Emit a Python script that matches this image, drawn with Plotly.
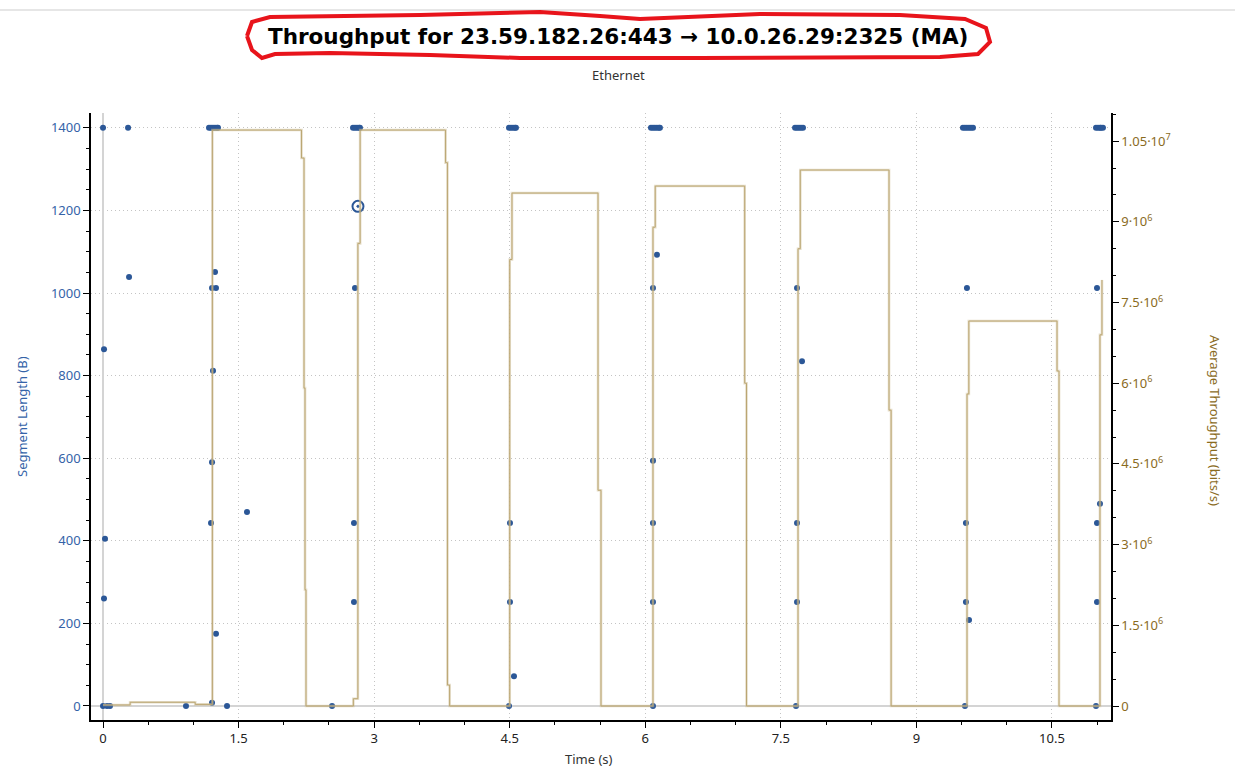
import plotly.graph_objects as go

# ---------------- data ----------------
# Average throughput (moving average), step line (time s, bits/s)
tp_time = [0.0, 0.30, 1.02, 1.21, 2.196, 2.224, 2.235, 2.246, 2.77, 2.82, 2.845,
           3.79, 3.811, 3.835, 4.50, 4.525, 5.477, 5.51, 6.085, 6.11, 7.10, 7.12,
           7.69, 7.715, 8.697, 8.72, 9.56, 9.58, 10.556, 10.578, 11.031, 11.053]
tp_value = [2.0e4, 7.0e4, 3.0e4, 1.0706e7, 1.0186e7, 5.91e6, 2.16e6, 0.0, 1.36e5, 8.6e6, 1.0706e7,
            1.01e7, 3.9e5, 0.0, 8.3e6, 9.535e6, 4.01e6, 0.0, 8.9e6, 9.665e6, 6.0e6, 0.0,
            8.5e6, 9.963e6, 5.5e6, 0.0, 5.8e6, 7.156e6, 6.227e6, 0.0, 6.9e6, 7.92e6]

# Segment lengths (time s, bytes)
seg_time = [0.000, 0.044, 0.077, 0.000, 0.011, 0.022, 0.011,
            0.277, 0.288,
            0.918,
            1.173, 1.195, 1.217, 1.239, 1.261, 1.272,
            1.206, 1.250, 1.239, 1.217, 1.206, 1.195, 1.250, 1.206,
            1.372, 1.593, 2.534,
            2.766, 2.788, 2.810, 2.832, 2.843,
            2.788, 2.777, 2.777,
            4.492, 4.514, 4.536, 4.558, 4.569,
            4.503, 4.503, 4.547, 4.492,
            6.063, 6.085, 6.107, 6.129, 6.151, 6.162,
            6.129, 6.085, 6.085, 6.085, 6.085, 6.085,
            7.657, 7.679, 7.701, 7.723, 7.745,
            7.679, 7.734, 7.679, 7.679, 7.668,
            9.515, 9.537, 9.559, 9.582, 9.604, 9.626,
            9.559, 9.548, 9.548, 9.582, 9.537,
            10.987, 11.009, 11.031, 11.042, 11.064,
            10.998, 11.031, 10.998, 10.998, 10.987]
seg_len = [0, 0, 0, 1400, 864, 405, 260,
           1400, 1039,
           0,
           1400, 1400, 1400, 1400, 1400, 1400,
           1012, 1012, 1051, 812, 590, 443, 175, 8,
           0, 470, 0,
           1400, 1400, 1400, 1400, 1400,
           1012, 443, 252,
           1400, 1400, 1400, 1400, 1400,
           443, 252, 72, 0,
           1400, 1400, 1400, 1400, 1400, 1400,
           1093, 1012, 594, 443, 252, 0,
           1400, 1400, 1400, 1400, 1400,
           1012, 835, 443, 252, 0,
           1400, 1400, 1400, 1400, 1400, 1400,
           1012, 443, 252, 208, 0,
           1400, 1400, 1400, 1400, 1400,
           1012, 490, 443, 252, 0]

# selected (highlighted) point
sel_time = [2.821]
sel_len = [1210]

x_ticks = [0, 1.5, 3, 4.5, 6, 7.5, 9, 10.5]
x_tick_labels = ["0", "1.5", "3", "4.5", "6", "7.5", "9", "10.5"]
y_ticks = [0, 200, 400, 600, 800, 1000, 1200, 1400]
y2_ticks = [0, 1.5e6, 3e6, 4.5e6, 6e6, 7.5e6, 9e6, 1.05e7]
y2_tick_labels = ["0", "1.5·10<sup>6</sup>", "3·10<sup>6</sup>", "4.5·10<sup>6</sup>",
                  "6·10<sup>6</sup>", "7.5·10<sup>6</sup>", "9·10<sup>6</sup>",
                  "1.05·10<sup>7</sup>"]

# ---------------- style ----------------
W, H = 1235, 770
L, R, T, B = 91, 124, 113, 50
BLUE = "#2b5797"
BLUE_TXT = "#3463a8"
OCHRE = "#8a6b1e"
FONT = "Noto Sans"
GRID = "#c4c4c4"


def px2paper(x, y):
    return (x - L) / (W - L - R), (H - B - y) / (H - T - B)


fig = go.Figure()

fig.add_trace(go.Scatter(x=tp_time, y=tp_value, yaxis="y2", mode="lines",
                         line=dict(shape="hv", color="rgba(205,190,150,0.5)", width=2.6),
                         hoverinfo="skip", showlegend=False))
fig.add_trace(go.Scatter(x=tp_time, y=tp_value, yaxis="y2", mode="lines",
                         line=dict(shape="hv", color="#bba672", width=1),
                         showlegend=False))
fig.add_trace(go.Scatter(x=seg_time, y=seg_len, mode="markers",
                         marker=dict(color=BLUE, size=6, line=dict(width=0)),
                         showlegend=False))
fig.add_trace(go.Scatter(x=sel_time, y=sel_len, mode="markers",
                         marker=dict(symbol="circle-open-dot", color=BLUE, size=11,
                                     line=dict(width=2, color=BLUE)),
                         showlegend=False))

fig.update_layout(
    width=W, height=H,
    margin=dict(l=L, r=R, t=T, b=B),
    paper_bgcolor="white", plot_bgcolor="white",
    font=dict(family=FONT, size=13, color="#333333"),
    showlegend=False,
    xaxis=dict(range=[-0.133, 11.153], tickvals=x_ticks, ticktext=x_tick_labels,
               showgrid=True, gridcolor=GRID, griddash="1px,3px", gridwidth=1,
               zeroline=True, zerolinecolor="#d4d4d4", zerolinewidth=2,
               showline=True, linecolor="black", linewidth=1.5,
               ticks="outside", ticklen=6, tickcolor="black",
               tickfont=dict(size=13, color="#222222"),
               minor=dict(dtick=0.5, tick0=0, ticks="outside", ticklen=3,
                          tickcolor="black", showgrid=False)),
    yaxis=dict(range=[-34, 1436], tickvals=y_ticks,
               showgrid=True, gridcolor=GRID, griddash="1px,3px", gridwidth=1,
               zeroline=True, zerolinecolor="#d4d4d4", zerolinewidth=2,
               showline=True, linecolor="black", linewidth=1.5,
               ticks="outside", ticklen=6, tickcolor="black",
               tickfont=dict(size=13, color=BLUE_TXT),
               minor=dict(dtick=50, tick0=0, ticks="outside", ticklen=3,
                          tickcolor="black", showgrid=False)),
    yaxis2=dict(range=[-2.6e5, 1.1023e7], overlaying="y", side="right",
                tickvals=y2_ticks, ticktext=y2_tick_labels,
                showgrid=False, zeroline=False,
                showline=True, linecolor="black", linewidth=1.5,
                ticks="outside", ticklen=6, tickcolor="black",
                tickfont=dict(size=13, color=OCHRE),
                minor=dict(dtick=5e5, tick0=0, ticks="outside", ticklen=3,
                           tickcolor="black", showgrid=False)),
)


def label(px, py, text, size, color, family=FONT, angle=0):
    x, y = px2paper(px, py)
    fig.add_annotation(x=x, y=y, xref="paper", yref="paper", showarrow=False,
                       xanchor="center", yanchor="middle", textangle=angle,
                       text=text, font=dict(family=family, size=size, color=color))


label(618, 37, "<b>Throughput for 23.59.182.26:443 → 10.0.26.29:2325 (MA)</b>",
      21.5, "black", family="DejaVu Sans")
label(618, 75, "Ethernet", 13, "#333333")
label(589, 759, "Time (s)", 13, "#333333")
label(22, 417, "Segment Length (B)", 13, BLUE_TXT, angle=-90)
label(1215, 420, "Average Throughput (bits/s)", 13, OCHRE, angle=90)

# faint window edge line at the top
a = px2paper(0, 10); b = px2paper(W, 10)
fig.add_shape(type="line", xref="paper", yref="paper", x0=a[0], y0=a[1], x1=b[0], y1=b[1],
              line=dict(color="#e6e6e6", width=2))

# hand-drawn red outline around the title
outline_px = [(247, 36), (252, 22), (270, 17), (420, 15), (540, 12), (600, 16), (640, 19),
              (760, 14), (900, 15), (965, 19), (986, 28), (990, 42), (978, 54), (940, 57),
              (700, 58), (520, 58), (430, 55), (330, 53), (275, 54), (262, 58), (252, 50),
              (247, 36)]
pts = [px2paper(x, y) for x, y in outline_px]
path = "M {} {}".format(*pts[0])
for i in range(1, len(pts)):
    path += " L {} {}".format(*pts[i])
fig.add_shape(type="path", xref="paper", yref="paper", path=path,
              line=dict(color="#e8141b", width=4))

fig.write_html("out.html", config={"displayModeBar": False},
               post_script="document.body.style.margin='0px';document.body.style.overflow='hidden';")
